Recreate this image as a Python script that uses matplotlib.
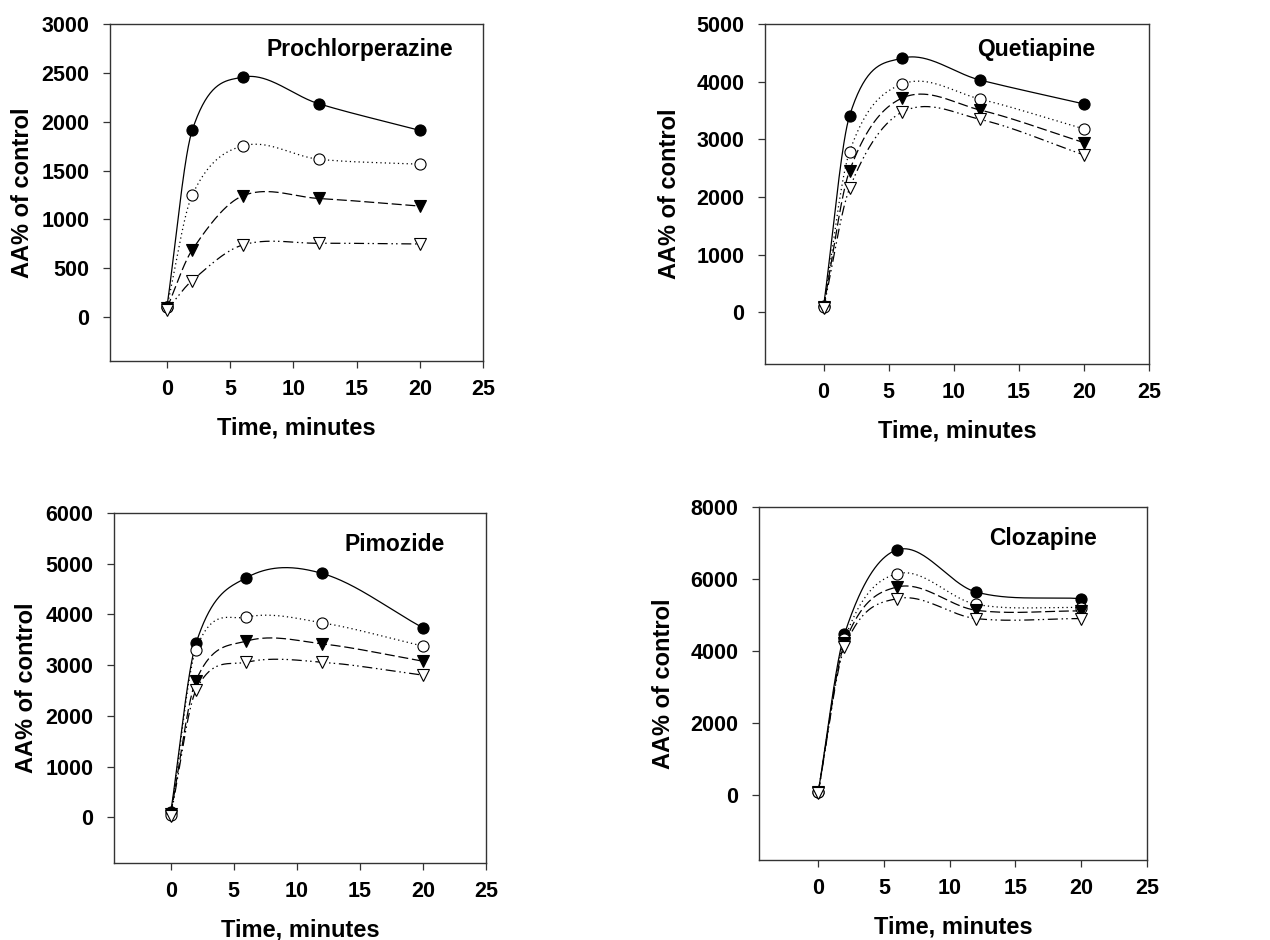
import numpy as np
import matplotlib
matplotlib.use('Agg')
import matplotlib.pyplot as plt

plt.rcParams['font.family'] = ['Liberation Sans', 'DejaVu Sans']

# sampling times (minutes)
t = [0, 2, 6, 12, 20]

drugs = ['Prochlorperazine', 'Quetiapine', 'Pimozide', 'Clozapine']

# four concentration series per drug, AA% of control
prochlor = [
    [100, 1911, 2456, 2184, 1911],
    [100, 1248, 1752, 1616, 1565],
    [90, 687, 1241, 1214, 1136],
    [75, 374, 738, 755, 748],
]
quetiapine = [
    [100, 3410, 4405, 4029, 3613],
    [90, 2786, 3954, 3699, 3179],
    [90, 2457, 3711, 3509, 2942],
    [70, 2150, 3468, 3347, 2728],
]
pimozide = [
    [100, 3428, 4724, 4809, 3737],
    [40, 3309, 3947, 3836, 3375],
    [70, 2697, 3474, 3421, 3079],
    [30, 2507, 3059, 3059, 2803],
]
clozapine = [
    [80, 4470, 6811, 5641, 5456],
    [80, 4323, 6147, 5300, 5207],
    [80, 4212, 5778, 5134, 5115],
    [70, 4101, 5456, 4903, 4903],
]
all_data = [prochlor, quetiapine, pimozide, clozapine]

ylims = [(-450, 3000), (-900, 5000), (-900, 6000), (-1800, 8000)]
ysteps = [500, 1000, 1000, 2000]


def smooth_curve(x, y, n=60):
    # cubic Hermite through the measured points (Catmull-Rom style tangents),
    # only used to draw the connecting curve
    x = np.asarray(x, float)
    y = np.asarray(y, float)
    k = len(x)
    d = np.zeros(k)
    d[0] = (y[1] - y[0]) / (x[1] - x[0])
    d[-1] = (y[-1] - y[-2]) / (x[-1] - x[-2])
    for i in range(1, k - 1):
        d[i] = (y[i + 1] - y[i - 1]) / (x[i + 1] - x[i - 1])
    xs_all, ys_all = [], []
    for i in range(k - 1):
        h = x[i + 1] - x[i]
        s = np.linspace(0, 1, n)
        h00 = 2 * s ** 3 - 3 * s ** 2 + 1
        h10 = s ** 3 - 2 * s ** 2 + s
        h01 = -2 * s ** 3 + 3 * s ** 2
        h11 = s ** 3 - s ** 2
        xs_all.append(x[i] + s * h)
        ys_all.append(h00 * y[i] + h10 * h * d[i] + h01 * y[i + 1] + h11 * h * d[i + 1])
    return np.concatenate(xs_all), np.concatenate(ys_all)


styles = [
    dict(ls='-', marker='o', mfc='black'),
    dict(ls=(0, (1, 2.5)), marker='o', mfc='white'),
    dict(ls=(0, (8, 3)), marker='v', mfc='black'),
    dict(ls=(0, (8, 3, 1.2, 2.5, 1.2, 3)), marker='v', mfc='white'),
]

W, H = 1270, 940
# axes frames in pixels: left, right, top, bottom
frames = [(110, 483, 24, 361), (765, 1149, 24, 364),
          (114, 486, 513, 863), (759, 1147, 507, 860)]
name_pos = [(0.92, 0.923), (0.86, 0.924), (0.89, 0.909), (0.871, 0.912)]
ylabel_pad = [5, 11, 5, 11]

fig = plt.figure(figsize=(12.7, 9.4), dpi=100)

for p in range(4):
    l, r, tp, bt = frames[p]
    ax = fig.add_axes([l / W, (H - bt) / H, (r - l) / W, (bt - tp) / H])
    for s, st in zip(all_data[p], styles):
        xs, ys = smooth_curve(t, s)
        ax.plot(xs, ys, color='black', lw=0.9, ls=st['ls'], zorder=2)
    for s, st in zip(all_data[p], styles):
        ax.plot(t, s, ls='none', marker=st['marker'], ms=8,
                mfc=st['mfc'], mec='black', mew=0.8, zorder=3)
    ax.set_xlim(-4.5, 25)
    ax.set_ylim(*ylims[p])
    ax.set_xticks([0, 5, 10, 15, 20, 25])
    ax.set_yticks(np.arange(0, ylims[p][1] + 1, ysteps[p]))
    for sp in ax.spines.values():
        sp.set_color('#333333')
        sp.set_linewidth(1.0)
    ax.tick_params(direction='out', length=5, width=0.9, color='#333333',
                   labelsize=15.5, pad=10)
    ax.tick_params(axis='x', pad=8)
    for lab in ax.get_xticklabels() + ax.get_yticklabels():
        lab.set_fontweight('bold')
    ax.set_xlabel('Time, minutes', fontsize=17, fontweight='bold', labelpad=12)
    ax.set_ylabel('AA% of control', fontsize=17, fontweight='bold',
                  labelpad=ylabel_pad[p])
    ax.text(name_pos[p][0], name_pos[p][1], drugs[p], transform=ax.transAxes,
            ha='right', va='center', fontsize=16.5, fontweight='bold')

fig.savefig('out.png', dpi=100)
